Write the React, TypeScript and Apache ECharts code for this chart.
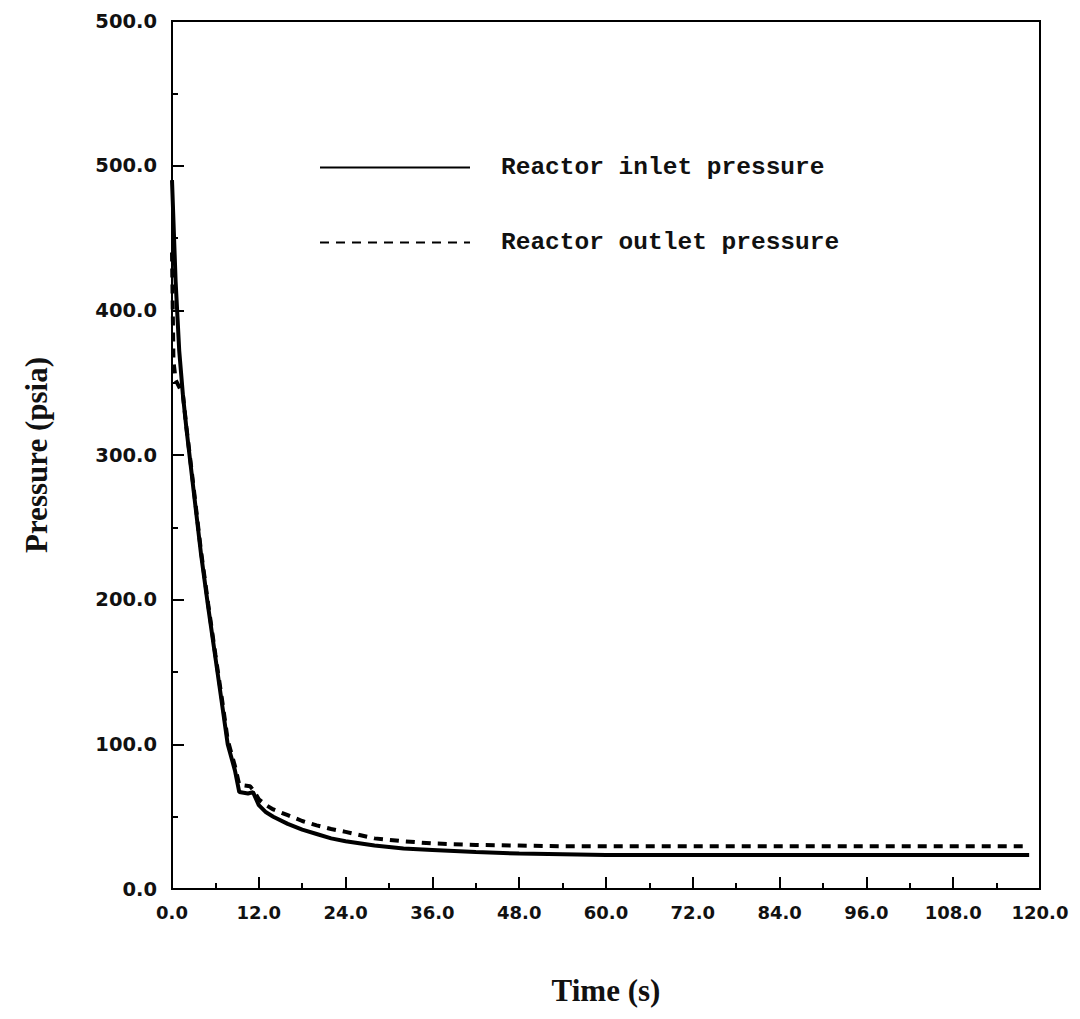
import React, { useEffect, useRef } from "react";
import * as echarts from "echarts";

const inletTime = [0, 0.5, 1, 1.5, 2, 3, 4, 5, 6, 7, 7.7, 8.7, 9.3, 10.5, 11.2, 12, 13, 14, 16, 18, 20, 22, 24, 28, 32, 36, 42, 48, 54, 60, 72, 84, 96, 108, 118.5];
const inletPressure = [490, 420, 372, 342, 318, 275, 232, 195, 160, 125, 100, 82, 67, 66, 67, 58, 53, 50, 45, 41, 38, 35, 33, 30, 28, 27, 25.5, 24.5, 24, 23.5, 23.5, 23.5, 23.5, 23.5, 23.5];

const outletTime = [0, 0.2, 0.5, 1.5, 2, 3, 4, 5, 6, 7, 7.7, 8.7, 9.3, 10.8, 11.3, 12, 13, 14, 16, 18, 20, 22, 24, 28, 32, 36, 42, 48, 54, 60, 72, 84, 96, 108, 118.5];
const outletPressure = [440, 365, 352, 342, 319, 277, 234, 197, 162, 128, 103, 85, 72, 71, 68, 62, 58, 55, 51, 47, 44, 41.5, 39.5, 35, 33, 31.5, 30.5, 30, 29.5, 29.5, 29.5, 29.5, 29.5, 29.5, 29.5];

const seriesNames = ["Reactor inlet pressure", "Reactor outlet pressure"];
const xTickLabels = ["0.0", "12.0", "24.0", "36.0", "48.0", "60.0", "72.0", "84.0", "96.0", "108.0", "120.0"];
const yTickLabels = ["0.0", "100.0", "200.0", "300.0", "400.0", "500.0", "500.0"];
const xAxisTitle = "Time (s)";
const yAxisTitle = "Pressure (psia)";

export default function App() {
  const ref = useRef<HTMLDivElement>(null);
  useEffect(() => {
    if (!ref.current) return;
    const chart = echarts.init(ref.current, null, { renderer: "svg" });
    const inletData = inletTime.map((t, i) => [t, inletPressure[i]]);
    const outletData = outletTime.map((t, i) => [t, outletPressure[i]]);
    chart.setOption({
      animation: false,
      backgroundColor: "#ffffff",
      grid: {
        left: 172,
        right: 40,
        top: 21,
        bottom: 130,
        show: true,
        borderColor: "#000",
        borderWidth: 2,
        backgroundColor: "transparent",
      },
      legend: {
        orient: "vertical",
        left: 314,
        top: 150,
        itemWidth: 150,
        itemHeight: 14,
        itemGap: 50,
        itemStyle: { opacity: 0 },
        textStyle: {
          fontFamily: "Liberation Mono",
          fontWeight: "bold",
          fontSize: 24.5,
          color: "#111",
          padding: [0, 0, 0, 26],
        },
        data: seriesNames,
      },
      xAxis: {
        type: "value",
        min: 0,
        max: 120,
        interval: 12,
        name: xAxisTitle,
        nameLocation: "middle",
        nameGap: 86,
        nameTextStyle: {
          fontFamily: "Liberation Serif",
          fontWeight: "bold",
          fontSize: 31,
          color: "#111",
        },
        axisLine: { show: true, lineStyle: { color: "#000", width: 2 } },
        axisTick: { show: true, inside: true, length: 12, lineStyle: { color: "#000", width: 2 } },
        minorTick: { show: true, splitNumber: 2, length: 6, lineStyle: { color: "#000", width: 2 } },
        splitLine: { show: false },
        axisLabel: {
          margin: 14,
          fontFamily: "DejaVu Sans",
          fontWeight: "bold",
          fontSize: 18,
          color: "#111",
          formatter: (v: number) => xTickLabels[Math.round(v / 12)] ?? "",
        },
      },
      yAxis: {
        type: "value",
        min: 0,
        max: 600,
        interval: 100,
        name: yAxisTitle,
        nameLocation: "middle",
        nameGap: 120,
        nameRotate: 90,
        nameTextStyle: {
          fontFamily: "Liberation Serif",
          fontWeight: "bold",
          fontSize: 31,
          color: "#111",
        },
        axisLine: { show: true, lineStyle: { color: "#000", width: 2 } },
        axisTick: { show: true, inside: true, length: 12, lineStyle: { color: "#000", width: 2 } },
        minorTick: { show: true, splitNumber: 2, length: 6, lineStyle: { color: "#000", width: 2 } },
        splitLine: { show: false },
        axisLabel: {
          margin: 15,
          fontFamily: "DejaVu Sans",
          fontWeight: "bold",
          fontSize: 19.5,
          color: "#111",
          formatter: (v: number) => yTickLabels[Math.round(v / 100)] ?? "",
        },
      },
      series: [
        {
          name: seriesNames[0],
          type: "line",
          data: inletData,
          symbol: "none",
          smooth: false,
          lineStyle: { color: "#000", width: 4, type: "solid" },
          itemStyle: { color: "#000" },
          z: 3,
        },
        {
          name: seriesNames[1],
          type: "line",
          data: outletData,
          symbol: "none",
          smooth: false,
          lineStyle: { color: "#000", width: 4, type: [9, 7] },
          itemStyle: { color: "#000" },
          z: 2,
        },
      ],
    });
    return () => chart.dispose();
  }, []);
  return <div ref={ref} style={{ width: 1080, height: 1019, margin: -8 }} />;
}
